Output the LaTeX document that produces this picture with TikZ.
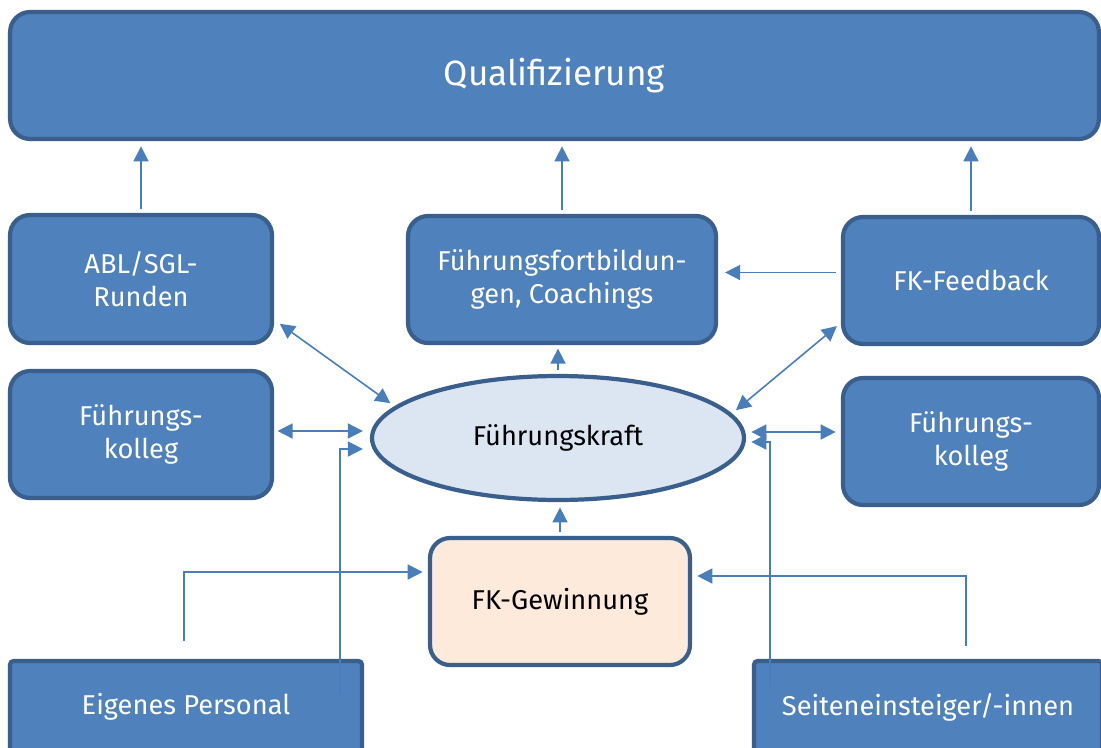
\documentclass[tikz,border=0pt]{standalone}
\usepackage{fontspec}
\setmainfont{Fira Sans}
\usetikzlibrary{arrows.meta,shapes.geometric}

\definecolor{kastenblau}{HTML}{4F81BD}
\definecolor{randblau}{HTML}{3A5F8C}
\definecolor{pfeilblau}{HTML}{4A7EBB}
\definecolor{hellblau}{HTML}{DCE6F2}
\definecolor{pfirsich}{HTML}{FDEADA}

\begin{document}
\begin{tikzpicture}[x=0.02cm, y=-0.02cm,
  kasten/.style={draw=randblau, line width=2.4pt, fill=kastenblau, rounded corners=0.4cm,
    text=white, align=center, font=\fontsize{15.5}{18.5}\selectfont, inner sep=2pt},
  pfeil/.style={draw=pfeilblau, line width=0.9pt, -{Triangle[length=8.5pt,width=8.5pt]}},
  doppel/.style={pfeil, {Triangle[length=8.5pt,width=8.5pt]}-{Triangle[length=8.5pt,width=8.5pt]}}]

\clip (0,0) rectangle (1101,747);

% Kaesten
\node[kasten, minimum width=21.78cm, minimum height=2.54cm, font=\fontsize{20}{24}\selectfont]
  (quali) at (554.5,75.5) {Qualifizierung};
\node[kasten, minimum width=5.24cm, minimum height=2.56cm] (abl) at (141,279) {ABL/SGL-\\Runden};
\node[kasten, minimum width=6.16cm, minimum height=2.54cm] (fortb) at (562,279.5)
  {Führungsfortbildun-\\gen, Coachings};
\node[kasten, minimum width=5.12cm, minimum height=2.54cm] (feedback) at (971,280.5) {FK-Feedback};
\node[kasten, minimum width=5.24cm, minimum height=2.54cm] (kollegL) at (141,434.5) {Führungs-\\kolleg};
\node[kasten, minimum width=5.12cm, minimum height=2.54cm] (kollegR) at (971,441.5) {Führungs-\\kolleg};
\node[kasten, ellipse, fill=hellblau, text=black, minimum width=7.44cm, minimum height=2.48cm]
  (fk) at (558,438) {Führungskraft};
\node[kasten, fill=pfirsich, text=black, minimum width=5.2cm, minimum height=2.54cm]
  (gewinnung) at (560,601.5) {FK-Gewinnung};
\node[kasten, rounded corners=2pt, minimum width=7.04cm, minimum height=1.84cm] (eigen) at (186,707) {Eigenes Personal};
\node[kasten, rounded corners=2pt, minimum width=6.96cm, minimum height=1.84cm] (seiten) at (928,707) {Seiteneinsteiger/-innen};

% Pfeile nach oben
\foreach \k in {abl,fortb,feedback}
  \draw[pfeil, shorten <=2pt, shorten >=3pt] (\k.north) -- (\k.north |- quali.south);
\draw[pfeil, shorten <=3pt, shorten >=4pt] ([yshift=0.16cm]feedback.west) -- ([yshift=0.16cm]feedback.west -| fortb.east);
\draw[pfeil, shorten <=2pt, shorten >=2pt] (fk.north) -- (fk.north |- fortb.south);
\draw[pfeil, shorten <=2pt, shorten >=3pt] (gewinnung.north) -- (gewinnung.north |- fk.south);

% Doppelpfeile
\draw[doppel, shorten <=3pt, shorten >=4pt] (fk.169) -- (abl.-17);
\draw[doppel, shorten <=3pt, shorten >=3pt] (fk.8.5) -- (feedback.198);
\draw[doppel, shorten <=2pt, shorten >=4pt] ([yshift=0.07cm]kollegL.east) -- ([yshift=0.07cm]kollegL.east -| fk.west);
\draw[doppel, shorten <=3pt, shorten >=3pt] ([yshift=0.19cm]kollegR.west) -- ([yshift=0.19cm]kollegR.west -| fk.east);

% Zugaenge
\coordinate (e1) at (184,641);
\coordinate (e2) at (340,694);
\coordinate (s1) at (966,646);
\coordinate (s2) at (770,686);
\draw[pfeil, shorten >=3pt] (e1) |- ([yshift=0.59cm]gewinnung.west);
\draw[pfeil, shorten >=4pt] (e2) |- ([yshift=-0.22cm]fk.west);
\draw[pfeil, shorten >=3pt] (s1) |- ([yshift=0.51cm]gewinnung.east);
\draw[pfeil, shorten >=3pt] (s2) |- ([yshift=-0.08cm]fk.east);

\end{tikzpicture}
\end{document}
